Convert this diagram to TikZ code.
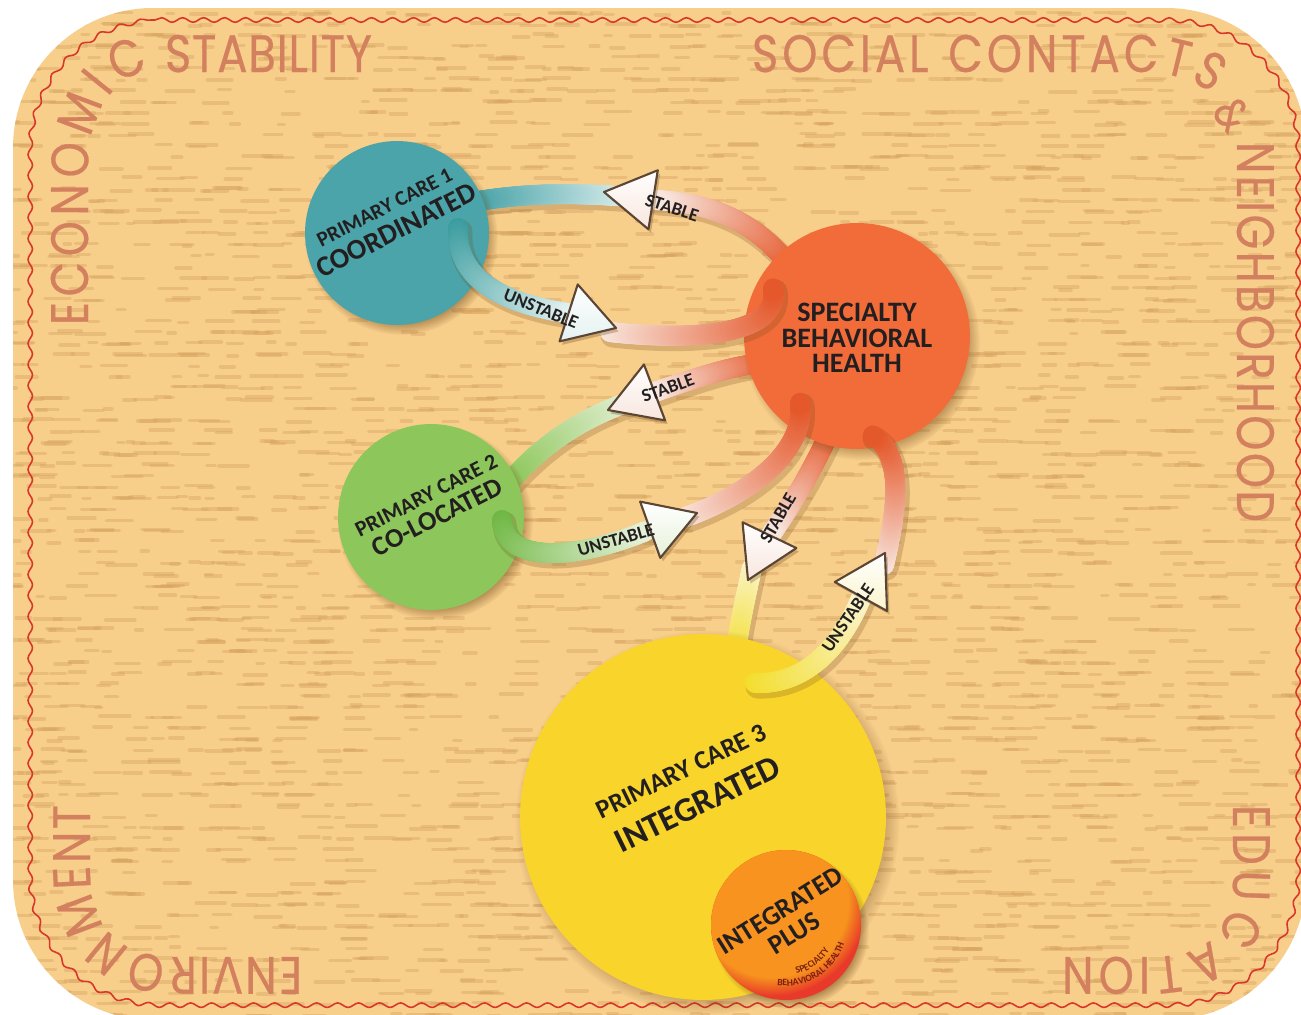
\documentclass[tikz,border=0pt]{standalone}
\usepackage{fontspec}
\setmainfont{Carlito}
\newfontfamily\cfont{Carlito}
\newfontfamily\bordfont[FakeStretch=0.85,FakeBold=0.4]{Poppins}
\usetikzlibrary{decorations.markings,decorations.text,decorations.pathmorphing,shapes.geometric,shadows,fadings}

\definecolor{board}{HTML}{F8CE8B}
\definecolor{streak}{HTML}{D5A35E}
\definecolor{bordc}{HTML}{D3805E}
\definecolor{redline}{HTML}{D8372A}
\definecolor{pcone}{HTML}{4BA4A9}
\definecolor{sbhc}{HTML}{F26C3A}
\definecolor{pctwo}{HTML}{8DC65A}
\definecolor{pcthree}{HTML}{F9D52C}
\definecolor{ipor}{HTML}{F7931E}
\definecolor{ipred}{HTML}{E8392A}
\definecolor{ipdark}{HTML}{7B1F12}
\definecolor{shadowc}{HTML}{6B4516}
\definecolor{txt}{HTML}{231F20}
\definecolor{tealD}{HTML}{3A9C9F}
\definecolor{tealL}{HTML}{E4F2F1}
\definecolor{orgD}{HTML}{E4582B}
\definecolor{orgL}{HTML}{F8E6DE}
\definecolor{grnD}{HTML}{6FB743}
\definecolor{grnL}{HTML}{E6F1D8}
\definecolor{yelD}{HTML}{F3DE2E}
\definecolor{yelL}{HTML}{FAF4CC}
\definecolor{ahline}{HTML}{5B4636}

\tikzset{
  streakline/.style={draw=streak, line width=0.07cm, line cap=round, opacity=0.4},
  scallop/.style={draw=redline, line width=0.9pt, decorate,
    decoration={snake, segment length=0.42cm, amplitude=0.045cm}},
  bordtext/.style={decorate, decoration={text along path, text align=fit to path,
    text color=bordc, text={|\bordfont\fontsize{30}{32}\selectfont|#1}}},
  gband/.style 2 args={
    preaction={draw=shadowc, draw opacity=0.22, line width=0.48cm, line cap=round,
      transform canvas={shift={(0.05cm,-0.07cm)}}},
    postaction={decorate, decoration={markings,
      mark=between positions 0 and 1 step 0.5pt with {%
        \pgfmathsetmacro\bandpc{100*\pgfkeysvalueof{/pgf/decoration/mark info/distance from start}/\pgfdecoratedpathlength}%
        \fill[#2!\bandpc!#1] (0,0) circle[radius=0.2cm];}}}},
  bubble/.style={circle, inner sep=0pt, minimum size=#1,
    circular drop shadow={shadow xshift=0.08cm, shadow yshift=-0.1cm, shadow scale=1.05, opacity=0.55, fill=shadowc}},
  ahead/.style={draw=ahline, line width=1.2pt, line join=round, top color=white, bottom color=#1,
    drop shadow={shadow xshift=0.05cm, shadow yshift=-0.07cm, opacity=0.3, fill=shadowc}},
  ctext/.style={text=txt, align=center, inner sep=0pt},
  alabel/.style={font=\cfont\bfseries\fontsize{10.5}{11}\selectfont, text=txt, inner sep=0pt},
  smalltext/.style={decorate, decoration={text along path, text align=center,
    text color=ipdark, text={|\cfont\bfseries\fontsize{5.5}{6}\selectfont|#1}}}
}

\begin{document}
\begin{tikzpicture}[x=0.02cm,y=-0.02cm]
\useasboundingbox (0,0) rectangle (1301,1014);
\fill[white] (0,0) rectangle (1301,1014);
% board
\fill[board, rounded corners=2.8cm] (13,8) rectangle (1306,1020);
\begin{scope}
  \clip[rounded corners=2.8cm] (13,8) rectangle (1306,1020);
  \pgfmathsetseed{42}
  \foreach \r in {0,...,92}{
    \foreach \k in {1,...,38}{
      \pgfmathsetmacro\xa{rnd*1310}
      \pgfmathsetmacro\la{6+rnd*24}
      \pgfmathsetmacro\ya{12+\r*11+rnd*3}
      \draw[streakline] (\xa,\ya) -- ++(\la,0);
    }
  }
\end{scope}
\path[scallop] (155,20) -- (1163,20) .. controls (1235,20) and (1293,78) .. (1293,150)
  -- (1293,875) .. controls (1293,947) and (1235,1005) .. (1163,1005)
  -- (155,1005) .. controls (83,1005) and (25,947) .. (25,875)
  -- (25,150) .. controls (25,78) and (83,20) .. (155,20);

% border words
\path[bordtext=ECONOMIC] (88,325) -- (88,170) .. controls (88,115) and (115,72) .. (150,72);
\path[bordtext=STABILITY] (165,72) -- (372,72);
\path[bordtext=SOCIAL CONTACTS] (752,72) -- (1140,72) .. controls (1170,72) and (1195,80) .. (1212,94);
\node[font=\bordfont\fontsize{26}{28}\selectfont, text=bordc, rotate=-52, inner sep=0pt] (amp) at (1232,114) {\&};
\path[bordtext=NEIGHBORHOOD] (1237,142) -- (1237,522);
\path[bordtext=ENVIRONMENT] (302,957) -- (175,957) .. controls (120,957) and (90,925) .. (90,870) -- (90,805);
\path[bordtext=EDUCATION] (1233,805) -- (1233,880) .. controls (1233,935) and (1200,957) .. (1150,957) -- (1062,957);

% arrow tips
\coordinate (t1) at (604,192);
\coordinate (t2) at (616,328);
\coordinate (t3) at (608,410);
\coordinate (t4) at (697,513);
\coordinate (t5) at (748,580);
\coordinate (t6) at (885,553);

% stable bands (behind circles)
\path[gband={orgD}{orgL}] (790,266) .. controls (757,224) and (715,203) .. (656,200);
\path[gband={tealL}{pcone}] (630,197) .. controls (580,193) and (530,192) .. (472,202);
\path[gband={orgD}{orgL}] (768,362) .. controls (730,366) and (695,378) .. (652,393);
\path[gband={grnL}{pctwo}] (628,402) .. controls (585,418) and (545,440) .. (505,487);
\path[gband={orgD}{orgL}] (828,436) .. controls (812,470) and (795,500) .. (770,536);
\path[gband={yelL}{yelD}] (752,568) .. controls (745,600) and (738,630) .. (733,672);

% circles
\node[bubble=3.68cm, fill=pcone] (pc1) at (397,233) {};
\node[bubble=4.52cm, fill=sbhc] (sbh) at (857,336) {};
\node[bubble=3.72cm, fill=pctwo] (pc2) at (431,517) {};
\node[bubble=7.32cm, fill=pcthree] (pc3) at (703,817) {};
\node[bubble=3.0cm, fill=ipred] (ip) at (786,925) {};
\begin{scope}
  \clip (ip.center) circle[radius=1.5cm];
  \fill[ipor, path fading=circle with fuzzy edge 20 percent] (772,901) circle[radius=1.9cm];
\end{scope}

% unstable bands (over circles)
\path[gband={tealD}{tealL}] (458,228) .. controls (455,282) and (510,306) .. (575,314);
\path[gband={orgL}{orgD}] (610,332) .. controls (690,341) and (782,336) .. (773,288);
\path[gband={grnD}{grnL}] (502,520) .. controls (504,562) and (570,562) .. (646,531);
\path[gband={orgL}{orgD}] (686,517) .. controls (760,490) and (806,446) .. (800,402);
\path[gband={yelD}{yelL}] (755,683) .. controls (810,685) and (845,640) .. (863,593);
\path[gband={orgL}{orgD}] (884,565) .. controls (897,510) and (905,455) .. (872,435);

% arrowheads (tip, then the two base corners; angles are in the flipped y system)
\draw[ahead=orgL]  (t1) -- +({-(171+149)}:58) -- +({-(171+211)}:58) -- cycle;
\draw[ahead=tealL] (t2) -- +({-(-17.7+149)}:58) -- +({-(-17.7+211)}:58) -- cycle;
\draw[ahead=orgL]  (t3) -- +({-(200.7+149)}:58) -- +({-(200.7+211)}:58) -- cycle;
\draw[ahead=grnL]  (t4) -- +({-(19.7+149)}:58) -- +({-(19.7+211)}:58) -- cycle;
\draw[ahead=orgL]  (t5) -- +({-(244.4+149)}:58) -- +({-(244.4+211)}:58) -- cycle;
\draw[ahead=yelL]  (t6) -- +({-(61+149)}:58) -- +({-(61+211)}:58) -- cycle;

% arrow labels
\node[alabel, rotate=-18] (l1) at (672,208) {STABLE};
\node[alabel, rotate=-22] (l2) at (541,309) {UNSTABLE};
\node[alabel, rotate=20] (l3) at (668,388) {STABLE};
\node[alabel, rotate=16] (l4) at (616,540) {UNSTABLE};
\node[alabel, rotate=60] (l5) at (778,518) {STABLE};
\node[alabel, rotate=56] (l6) at (848,618) {UNSTABLE};

% circle texts
\node[ctext, rotate=27, font=\cfont\bfseries\fontsize{16.3}{16}\selectfont] (pc1t) at (391,220)
  {{\fontsize{12}{16}\selectfont PRIMARY CARE 1}\\COORDINATED};
\node[ctext, font=\cfont\bfseries\fontsize{16}{14.5}\selectfont] (sbht) at (857,338)
  {SPECIALTY\\BEHAVIORAL\\HEALTH};
\node[ctext, rotate=27, font=\cfont\bfseries\fontsize{15.4}{14.5}\selectfont] (pc2t) at (432,507)
  {{\fontsize{12.6}{14.5}\selectfont PRIMARY CARE 2}\\CO-LOCATED};
\node[ctext, rotate=26, font=\cfont\bfseries\fontsize{19.5}{22.5}\selectfont] (pc3t) at (690,789)
  {{\fontsize{15}{22.5}\selectfont PRIMARY CARE 3}\\INTEGRATED};
\node[ctext, rotate=32, font=\cfont\bfseries\fontsize{15.4}{15}\selectfont] (ipt) at (787,922)
  {INTEGRATED\\PLUS};
\path[smalltext=SPECIALTY] (ip.center) ++(80:50) arc[start angle=80, end angle=28, radius=50];
\path[smalltext=BEHAVIORAL HEALTH] (ip.center) ++(108:61) arc[start angle=108, end angle=8, radius=61];
\end{tikzpicture}
\end{document}
